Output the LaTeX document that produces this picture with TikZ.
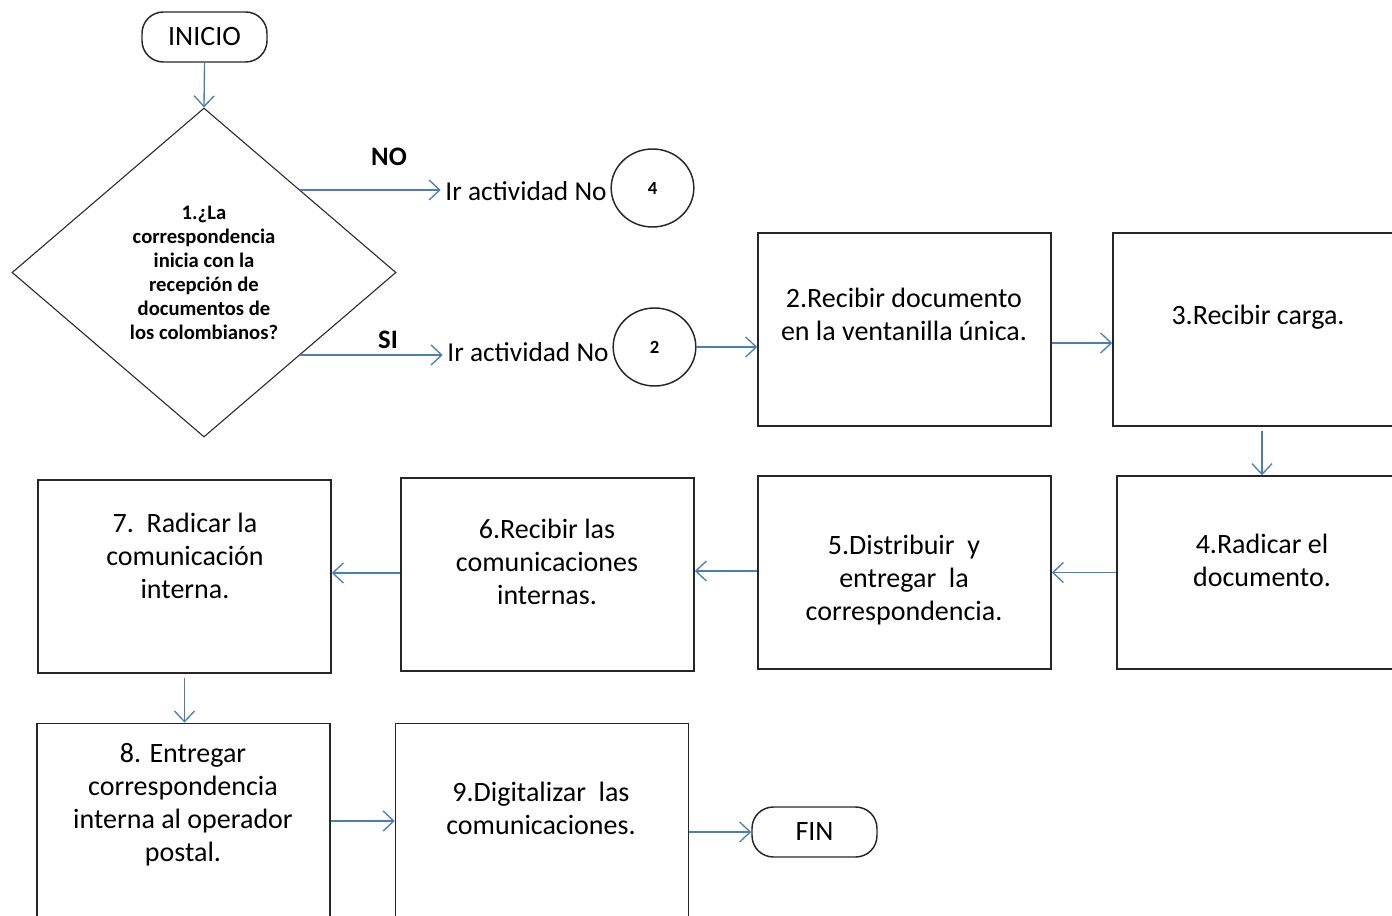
\documentclass[tikz,border=0pt]{standalone}
\usepackage{fontspec}
\setmainfont{Carlito}
\usetikzlibrary{arrows.meta,shapes.geometric,positioning}
\definecolor{flowblue}{HTML}{4A7EBB}
\definecolor{boxline}{HTML}{262626}

\tikzset{
 box/.style={draw=boxline, line width=1.1pt, minimum width=219.75pt, minimum height=144.75pt, inner sep=0pt},
 txt/.style={align=center, font=\fontsize{21}{24.75}\selectfont},
 flow/.style={draw=flowblue, line width=1pt, -{Straight Barb[length=8pt,width=15pt]}},
 term/.style={draw=boxline, line width=1.1pt, rounded corners=16pt, minimum width=93.75pt, minimum height=37.5pt, inner sep=0pt, font=\fontsize{21}{24}\selectfont},
 conn/.style={ellipse, draw=boxline, line width=1.1pt, minimum width=62pt, minimum height=58.5pt, inner sep=0pt, font=\bfseries\fontsize{14}{16}\selectfont},
 dec/.style={diamond, draw=boxline, line width=0.8pt, minimum width=288pt, minimum height=246.75pt, inner sep=0pt, align=center, font=\bfseries\fontsize{15.5}{18}\selectfont},
 lbl/.style={font=\bfseries\fontsize{20}{24}\selectfont},
}

\begin{document}
\begin{tikzpicture}[x=0.75pt,y=0.75pt,yscale=-1,xscale=1]
 \useasboundingbox (0,0) rectangle (1392,916);

 % inicio y decision
 \node[term] (start) at (204.5,37) {INICIO};
 \node[dec] (dia) at (204,272.5) {1.¿La\\correspondencia\\inicia con la\\recepción de\\documentos de\\los colombianos?};
 \draw[flow] (start.south) -- (dia.north);

 \node[lbl] (no) at (389,157) {NO};
 \node[lbl] (si) at (388,340) {SI};
 \node[txt, font=\fontsize{20.5}{24}\selectfont] (go4) at (526,191) {Ir actividad No};
 \node[txt, font=\fontsize{20.5}{24}\selectfont] (go2) at (528,352) {Ir actividad No};
 \node[conn] (c4) at (652.5,188) {4};
 \node[conn] (c2) at (654.5,347) {2};
 \draw[flow] (dia.north east) -- (dia.north east -| go4.west);
 \draw[flow] (dia.south east) -- (dia.south east -| go2.west);

 % fila superior
 \node[box] (b2) at (904.5,329.5) {};
 \node[box] (b3) at (1259.5,329.5) {};
 \node[txt] (t2) at (904,314) {2.Recibir documento\\en la ventanilla única.};
 \node[txt] (t3) at (1258,317) {3.Recibir carga.};

 % fila media
 \node[box] (b4) at (1263.5,572.5) {};
 \node[box] (b5) at (904.5,572.5) {};
 \node[box] (b6) at (547.5,574.5) {};
 \node[box] (b7) at (184.5,576.5) {};
 \node[txt] (t4) at (1262,560) {4.Radicar el\\documento.};
 \node[txt] (t5) at (904,580) {5.Distribuir\ \ y\\entregar\ \ la\\correspondencia.};
 \node[txt] (t6) at (547,562) {6.Recibir las\\comunicaciones\\internas.};
 \node[txt] (t7) at (185,556) {7.\ \ Radicar la\\comunicación\\interna.};

 % fila inferior
 \node[box, minimum height=160pt] (b8) at (183.5,830) {};
 \node[box, minimum height=160pt] (b9) at (542,830) {};
 \node[txt] (t8) at (183,805) {8. Entregar\\correspondencia\\interna al operador\\postal.};
 \node[txt] (t9) at (541,808) {9.Digitalizar\ \ las\\comunicaciones.};
 \node[term] (fin) at (814.5,832) {FIN};

 % conectores
 \draw[flow] (c2.east) -- (c2.east -| b2.west);
 \draw[flow] (b2.east |- 0,343) -- (b3.west |- 0,343);
 \draw[flow] ([yshift=3pt]b3.south -| 1262,0) -- (b4.north -| 1262,0);
 \draw[flow] (b4.west) -- (b5.east);
 \draw[flow] (b5.west |- 0,571) -- (b6.east |- 0,571);
 \draw[flow] (b6.west |- 0,573) -- (b7.east |- 0,573);
 \draw[flow] ([yshift=3pt]b7.south) -- (b7.south |- b8.north);
 \draw[flow] (b8.east |- 0,821) -- (b9.west |- 0,821);
 \draw[flow] (b9.east |- fin) -- (fin.west);
\end{tikzpicture}
\end{document}
